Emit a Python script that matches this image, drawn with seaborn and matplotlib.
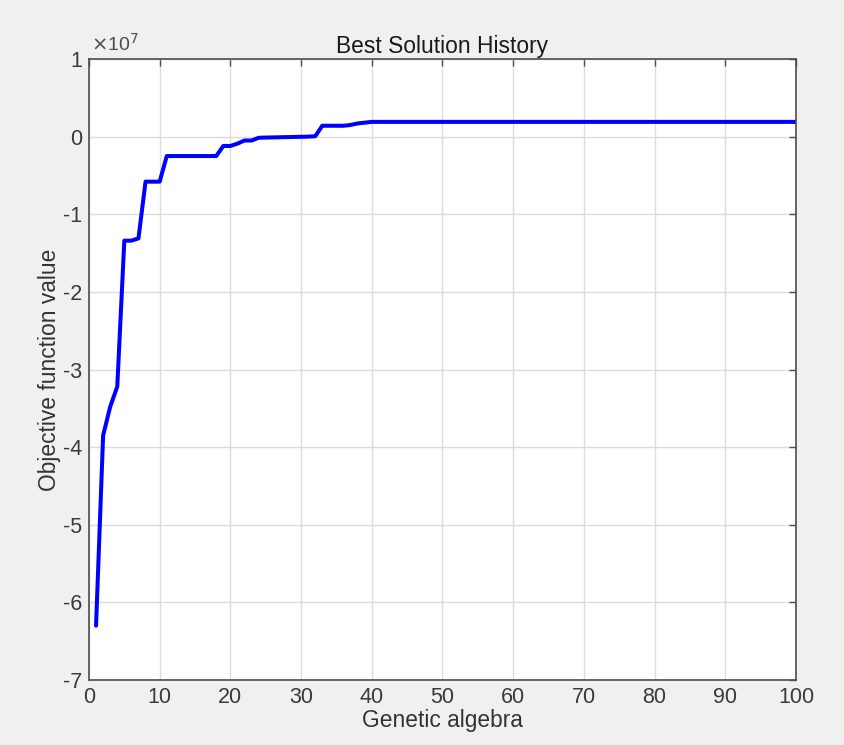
import numpy as np
import pandas as pd
import matplotlib
matplotlib.use('Agg')
import matplotlib.pyplot as plt
import seaborn as sns
from matplotlib.ticker import FuncFormatter, MultipleLocator

# best objective value per generation (units of 1e7)
generation = list(range(1, 101))
best_head = [-6.30, -3.85, -3.48, -3.22, -1.34, -1.34, -1.31, -0.58, -0.58, -0.58,
             -0.25, -0.25, -0.25, -0.25, -0.25, -0.25, -0.25, -0.25, -0.12, -0.12,
             -0.09, -0.05, -0.05, -0.015, -0.012, -0.010, -0.008, -0.006, -0.004, -0.002,
             0.0, 0.005, 0.14, 0.14, 0.14, 0.14, 0.15, 0.17, 0.18, 0.19]
best_tail = [0.19] * 60
best_value = [v * 1e7 for v in best_head + best_tail]

df = pd.DataFrame({'generation': generation, 'best': best_value})

sns.set_style('white')
plt.rcParams['font.family'] = ['Liberation Sans', 'DejaVu Sans']
plt.rcParams['axes.unicode_minus'] = False

fig = plt.figure(figsize=(8.45, 7.45), dpi=100, facecolor='#f0f0f0')
ax = fig.add_axes([0.1053, 0.0872, 0.8367, 0.8336])
ax.set_facecolor('white')

sns.lineplot(data=df, x='generation', y='best', ax=ax, color='#0000ff', linewidth=2.9)

ax.set_xlim(0, 100)
ax.set_ylim(-7e7, 1e7)
ax.xaxis.set_major_locator(MultipleLocator(10))
ax.yaxis.set_major_locator(MultipleLocator(1e7))
ax.yaxis.set_major_formatter(FuncFormatter(lambda v, p: '%g' % round(v / 1e7, 6)))
ax.text(0.003, 1.006, r'$\times$10$^{7}$', transform=ax.transAxes, ha='left', va='bottom',
        fontsize=14, color='#4d4d4d')

ax.grid(True, color='#dcdcdc', linewidth=1)
ax.set_axisbelow(True)
for s in ax.spines.values():
    s.set_visible(True)
    s.set_color('#4d4d4d')
    s.set_linewidth(1.2)
ax.tick_params(direction='in', length=5, width=1, colors='#4d4d4d',
               top=True, right=True, labelsize=15.5, labelcolor='#3a3a3a', pad=5)

ax.set_title('Best Solution History', fontsize=16.4, color='#1a1a1a', pad=4)
ax.set_xlabel('Genetic algebra', fontsize=16.4, color='#333333', labelpad=1)
ax.set_ylabel('Objective function value', fontsize=16.4, color='#333333', labelpad=1)

fig.savefig('out.png', dpi=100, facecolor=fig.get_facecolor())
